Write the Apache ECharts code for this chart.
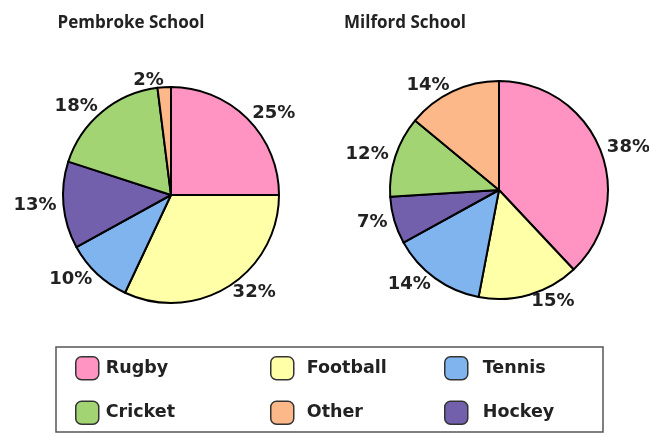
<!DOCTYPE html>
<html>
<head>
<meta charset="utf-8">
<script src="https://cdn.jsdelivr.net/npm/echarts@6/dist/echarts.min.js"></script>
<style>
html,body{margin:0;padding:0;background:#fff;}
#c{width:649px;height:437px;}
</style>
</head>
<body>
<div id="c"></div>
<script>
var categories = ['Rugby', 'Football', 'Tennis', 'Hockey', 'Cricket', 'Other'];
var pembrokeValues = [25, 32, 10, 13, 18, 2];
var milfordValues = [38, 15, 14, 7, 12, 14];
var schoolNames = ['Pembroke School', 'Milford School'];
var colors = ['#FF94C2', '#FFFFA8', '#80B4EE', '#7260AC', '#A2D474', '#FCB888'];

var FONT = 'DejaVu Sans';
function makeData(vals) {
  return categories.map(function (c, i) {
    return { name: c, value: vals[i], itemStyle: { color: colors[i] } };
  });
}
var labelCfg = {
  show: true, position: 'outside', formatter: '{c}%',
  fontFamily: FONT, fontWeight: 'bold', fontSize: 18, color: '#222', distanceToLabelLine: 0
};
var chart = echarts.init(document.getElementById('c'), null, { renderer: 'canvas' });
var legendText = { fontFamily: FONT, fontWeight: 'bold', fontSize: 17.5, color: '#222' };
function leg(items, left, pad) {
  return { data: items, orient: 'vertical', left: left, top: 356, padding: 0, itemWidth: 23, itemHeight: 23, itemGap: 20,
    itemStyle: { borderColor: '#333', borderWidth: 1.5 },
    textStyle: Object.assign({ padding: [0, 0, 0, pad] }, legendText), selectedMode: false };
}
var titleStyle = { fontFamily: 'Open Sans', fontWeight: 'bold', fontSize: 17, color: '#222' };
chart.setOption({
  animation: false,
  color: colors,
  title: [
    { text: schoolNames[0], left: 126, top: 10, textAlign: 'center', textStyle: titleStyle },
    { text: schoolNames[1], left: 400, top: 10, textAlign: 'center', textStyle: titleStyle }
  ],
  graphic: [{
    type: 'rect', shape: { x: 56, y: 347, width: 547, height: 85 },
    style: { fill: 'none', stroke: '#555', lineWidth: 1.5 }
  }],
  legend: [
    leg(['Rugby', 'Cricket'], 75, 2),
    leg(['Football', 'Other'], 270, 8),
    leg(['Tennis', 'Hockey'], 444, 10)
  ],
  series: [
    { type: 'pie', name: schoolNames[0], center: [171, 195], radius: 108, startAngle: 90, clockwise: true,
      avoidLabelOverlap: false, data: makeData(pembrokeValues),
      itemStyle: { borderColor: '#000', borderWidth: 2 },
      label: labelCfg, labelLine: { show: false, length: 7, length2: 0 }, emphasis: { disabled: true } },
    { type: 'pie', name: schoolNames[1], center: [499, 190], radius: 109, startAngle: 90, clockwise: true,
      avoidLabelOverlap: false, data: makeData(milfordValues),
      itemStyle: { borderColor: '#000', borderWidth: 2 },
      label: labelCfg, labelLine: { show: false, length: 7, length2: 0 }, emphasis: { disabled: true } }
  ]
});
</script>
</body>
</html>
